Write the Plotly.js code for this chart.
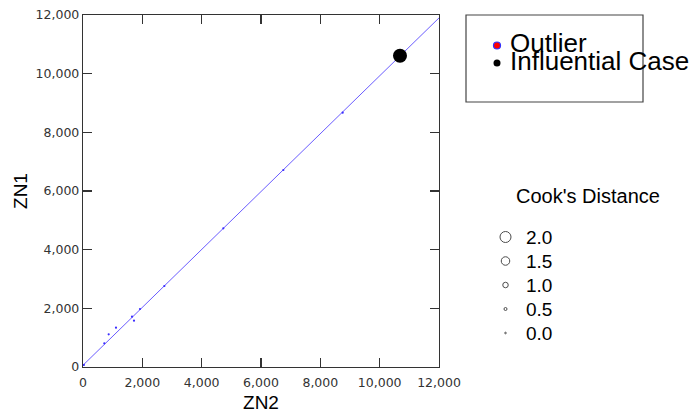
<!DOCTYPE html>
<html>
<head>
<meta charset="utf-8">
<script src="https://cdn.plot.ly/plotly-3.0.1.min.js"></script>
<style>html,body{margin:0;padding:0;background:#fff;}#chart{width:696px;height:417px;}</style>
</head>
<body>
<div id="chart"></div>
<script>
// ---- data ----
var caseZN2 = [30, 718, 866, 1112, 1652, 1719, 1921, 2742, 4730, 6753, 8753];
var caseZN1 = [70, 808, 1115, 1340, 1715, 1578, 1977, 2761, 4728, 6716, 8670];
var influentialZN2 = [10685];
var influentialZN1 = [10613];
var fitZN2 = [0, 12000];
var fitZN1 = [60, 11900];
var keyLabels = ["Outlier", "Influential Case"];
var cookTitle = "Cook's Distance";
var cookLabels = ["2.0", "1.5", "1.0", "0.5", "0.0"];
var cookSizes = [11, 8.5, 5.5, 3, 1.6];
var xTicks = [0, 2000, 4000, 6000, 8000, 10000, 12000];
var yTicks = [0, 2000, 4000, 6000, 8000, 10000, 12000];

// ---- layout constants (pixels) ----
var W = 696, H = 417;
var plotL = 83, plotR = 439, plotT = 15, plotB = 367;
var keyX = 497, keyY0 = 45.5, keyDy = 17.5;
var cookX = 505.5, cookY0 = 237, cookDy = 24;
var FONT = 'Liberation Sans, Arial, sans-serif';
var TICKFONT = 'DejaVu Sans, sans-serif';

var traces = [
  {x: fitZN2, y: fitZN1, mode: 'lines', line: {color: '#6a5cff', width: 1}, hoverinfo: 'skip'},
  {x: caseZN2, y: caseZN1, mode: 'markers', marker: {color: '#3a2cff', size: 2.2}},
  {x: influentialZN2, y: influentialZN1, mode: 'markers', marker: {color: '#000', size: 14}},
  // key legend symbols (pixel-space axes)
  {x: [keyX], y: [keyY0], xaxis: 'x2', yaxis: 'y2', mode: 'markers',
   marker: {color: '#ff0000', size: 7, line: {color: '#3030ff', width: 1.2}}},
  {x: [keyX], y: [keyY0 + keyDy], xaxis: 'x2', yaxis: 'y2', mode: 'markers',
   marker: {color: '#000', size: 7}},
  // Cook's distance size key
  {x: cookLabels.map(function(){return cookX;}),
   y: cookLabels.map(function(_, i){return cookY0 + i * cookDy;}),
   xaxis: 'x2', yaxis: 'y2', mode: 'markers',
   marker: {size: cookSizes, color: 'rgba(255,255,255,0)', line: {color: '#000', width: 1}}}
];

var annotations = [];
keyLabels.forEach(function(t, i){
  annotations.push({xref: 'x2', yref: 'y2', x: keyX + 11, y: keyY0 - 3 + i * 18.5, text: t,
    showarrow: false, xanchor: 'left', yanchor: 'middle',
    font: {family: FONT, size: 26, color: '#000'}});
});
annotations.push({xref: 'x2', yref: 'y2', x: 588, y: 196, text: cookTitle, showarrow: false,
  xanchor: 'center', yanchor: 'middle', font: {family: FONT, size: 20, color: '#000'}});
cookLabels.forEach(function(t, i){
  annotations.push({xref: 'x2', yref: 'y2', x: cookX + 18, y: cookY0 + i * cookDy, text: t,
    showarrow: false, xanchor: 'left', yanchor: 'middle',
    font: {family: FONT, size: 19, color: '#000'}});
});

var axisCommon = {
  showline: true, linecolor: '#333', linewidth: 1.2, mirror: 'ticks',
  ticks: 'inside', ticklen: 9, tickcolor: '#333', tickwidth: 1.2,
  showgrid: false, zeroline: false, tickformat: ',d',
  tickfont: {family: TICKFONT, size: 12.5, color: '#333'},
  range: [0, 12000], fixedrange: true
};

var layout = {
  width: W, height: H,
  margin: {l: 0, r: 0, t: 0, b: 0},
  paper_bgcolor: '#fff', plot_bgcolor: 'rgba(0,0,0,0)',
  showlegend: false,
  xaxis: Object.assign({}, axisCommon, {
    domain: [plotL / W, plotR / W], tickvals: xTicks, anchor: 'y', ticklabelstandoff: 4,
    title: {text: 'ZN2', font: {family: FONT, size: 19, color: '#000'}, standoff: 6}
  }),
  yaxis: Object.assign({}, axisCommon, {
    domain: [(H - plotB) / H, (H - plotT) / H], tickvals: yTicks, anchor: 'x',
    title: {text: 'ZN1', font: {family: FONT, size: 19, color: '#000'}, standoff: 2}
  }),
  xaxis2: {domain: [0, 1], range: [0, W], visible: false, fixedrange: true, anchor: 'y2'},
  yaxis2: {domain: [0, 1], range: [H, 0], visible: false, fixedrange: true, anchor: 'x2'},
  shapes: [
    {type: 'rect', xref: 'x2', yref: 'y2', x0: 466, x1: 643, y0: 15, y1: 102,
     line: {color: '#444', width: 1.2}, fillcolor: 'rgba(0,0,0,0)'}
  ],
  annotations: annotations
};

Plotly.newPlot('chart', traces, layout, {displayModeBar: false, staticPlot: true});
</script>
</body>
</html>
